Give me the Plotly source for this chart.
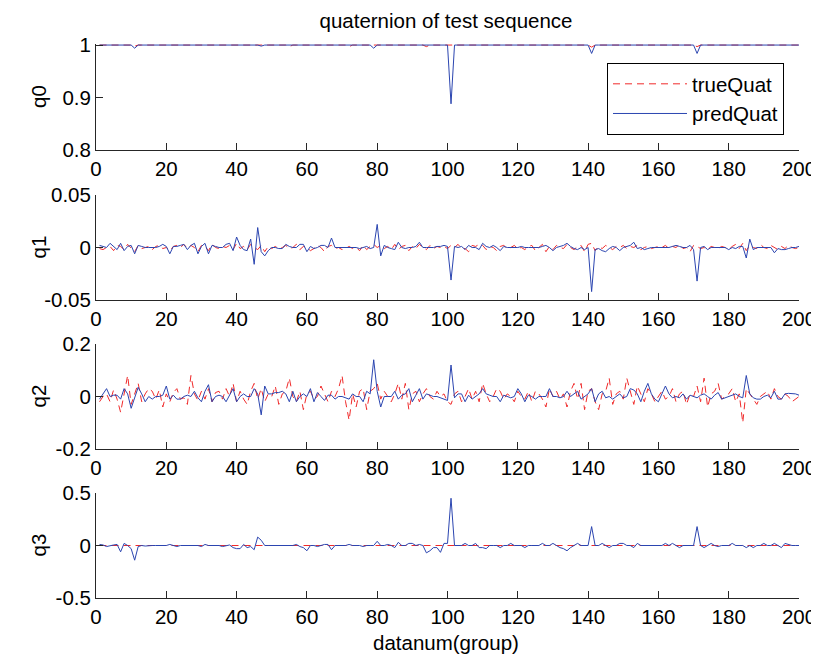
import plotly.graph_objects as go

# ---------------- data ----------------
datanum = list(range(1, 201))

q0_true = [
    1.000, 1.000, 1.000, 1.000, 1.000, 1.000, 1.000, 1.000, 1.000, 1.000, 0.998, 1.000, 1.000, 1.000, 1.000, 1.000, 1.000, 1.000, 1.000, 1.000,
    1.000, 1.000, 1.000, 1.000, 1.000, 1.000, 1.000, 1.000, 1.000, 1.000, 1.000, 1.000, 1.000, 1.000, 1.000, 1.000, 1.000, 1.000, 1.000, 1.000,
    1.000, 1.000, 1.000, 1.000, 1.000, 1.000, 0.999, 1.000, 1.000, 1.000, 1.000, 1.000, 1.000, 1.000, 0.997, 1.000, 1.000, 1.000, 1.000, 1.000,
    1.000, 1.000, 1.000, 1.000, 1.000, 1.000, 1.000, 1.000, 1.000, 1.000, 1.000, 0.997, 1.000, 1.000, 1.000, 1.000, 1.000, 1.000, 1.000, 1.000,
    1.000, 1.000, 1.000, 1.000, 1.000, 1.000, 1.000, 1.000, 1.000, 1.000, 1.000, 1.000, 1.000, 0.997, 1.000, 1.000, 1.000, 1.000, 1.000, 1.000,
    0.999, 1.000, 1.000, 1.000, 1.000, 1.000, 1.000, 1.000, 1.000, 1.000, 1.000, 1.000, 1.000, 1.000, 1.000, 1.000, 1.000, 1.000, 1.000, 1.000,
    1.000, 1.000, 1.000, 1.000, 1.000, 1.000, 1.000, 1.000, 1.000, 1.000, 1.000, 1.000, 1.000, 1.000, 1.000, 1.000, 1.000, 1.000, 1.000, 1.000,
    0.996, 1.000, 1.000, 1.000, 1.000, 1.000, 1.000, 1.000, 1.000, 1.000, 1.000, 1.000, 1.000, 1.000, 1.000, 1.000, 1.000, 1.000, 1.000, 1.000,
    1.000, 1.000, 1.000, 1.000, 1.000, 1.000, 1.000, 1.000, 1.000, 1.000, 0.997, 1.000, 1.000, 1.000, 1.000, 1.000, 1.000, 1.000, 1.000, 1.000,
    1.000, 1.000, 1.000, 1.000, 1.000, 1.000, 1.000, 1.000, 1.000, 1.000, 1.000, 1.000, 1.000, 1.000, 1.000, 1.000, 1.000, 1.000, 1.000, 1.000,
]
q0_pred = [
    1.000, 1.000, 1.000, 1.000, 1.000, 1.000, 1.000, 1.000, 1.000, 1.000, 0.994, 1.000, 1.000, 1.000, 1.000, 1.000, 1.000, 1.000, 1.000, 1.000,
    1.000, 1.000, 1.000, 1.000, 1.000, 1.000, 1.000, 1.000, 1.000, 1.000, 1.000, 1.000, 1.000, 1.000, 1.000, 1.000, 1.000, 1.000, 1.000, 1.000,
    1.000, 1.000, 1.000, 1.000, 1.000, 1.000, 0.998, 1.000, 1.000, 1.000, 1.000, 1.000, 1.000, 1.000, 1.000, 1.000, 1.000, 1.000, 1.000, 1.000,
    1.000, 1.000, 1.000, 1.000, 1.000, 1.000, 1.000, 1.000, 1.000, 1.000, 1.000, 1.000, 1.000, 1.000, 1.000, 1.000, 1.000, 1.000, 0.994, 1.000,
    1.000, 1.000, 1.000, 1.000, 1.000, 1.000, 1.000, 1.000, 1.000, 1.000, 1.000, 1.000, 1.000, 1.000, 1.000, 1.000, 1.000, 1.000, 1.000, 1.000,
    0.888, 1.000, 1.000, 1.000, 1.000, 1.000, 1.000, 1.000, 1.000, 1.000, 1.000, 1.000, 1.000, 1.000, 1.000, 1.000, 1.000, 1.000, 1.000, 1.000,
    1.000, 1.000, 1.000, 1.000, 1.000, 1.000, 1.000, 1.000, 1.000, 1.000, 1.000, 1.000, 1.000, 1.000, 1.000, 1.000, 1.000, 1.000, 1.000, 1.000,
    0.984, 1.000, 1.000, 1.000, 1.000, 1.000, 1.000, 1.000, 1.000, 1.000, 1.000, 1.000, 1.000, 1.000, 1.000, 1.000, 1.000, 1.000, 1.000, 1.000,
    1.000, 1.000, 1.000, 1.000, 1.000, 1.000, 1.000, 1.000, 1.000, 1.000, 0.984, 1.000, 1.000, 1.000, 1.000, 1.000, 1.000, 1.000, 1.000, 1.000,
    1.000, 1.000, 1.000, 1.000, 1.000, 1.000, 1.000, 1.000, 1.000, 1.000, 1.000, 1.000, 1.000, 1.000, 1.000, 1.000, 1.000, 1.000, 1.000, 1.000,
]

q1_true = [
    -0.001, -0.002, 0.000, 0.001, -0.003, 0.002, 0.001, -0.002, 0.003, -0.001, -0.004, 0.002, -0.001, 0.000, 0.001, -0.002, 0.001, 0.002, -0.001, 0.000,
    -0.003, 0.001, 0.002, 0.000, 0.003, -0.001, 0.002, 0.000, -0.004, 0.002, 0.001, -0.003, 0.003, 0.000, -0.001, 0.001, 0.000, 0.002, -0.002, 0.004,
    -0.001, 0.001, -0.002, 0.003, 0.000, -0.002, 0.002, -0.004, 0.001, -0.001, 0.001, -0.001, 0.000, 0.002, -0.001, 0.000, 0.003, -0.002, 0.001, 0.000,
    -0.003, -0.001, 0.002, 0.000, -0.004, 0.001, 0.002, -0.001, 0.000, -0.002, -0.001, 0.001, -0.001, 0.000, -0.003, 0.002, -0.002, 0.001, 0.003, 0.000,
    0.002, -0.001, 0.001, -0.002, 0.003, -0.002, 0.001, 0.002, -0.003, 0.001, -0.001, 0.003, 0.000, -0.002, 0.002, -0.001, 0.001, 0.000, 0.001, -0.001,
    0.002, 0.000, 0.003, -0.001, -0.001, -0.004, 0.002, 0.001, 0.003, 0.002, -0.002, 0.001, 0.000, -0.003, 0.001, 0.002, -0.001, 0.000, 0.002, -0.001,
    0.000, -0.002, 0.001, 0.002, -0.003, 0.000, 0.003, -0.004, 0.001, -0.002, 0.002, 0.000, -0.001, 0.003, 0.000, -0.002, 0.001, 0.002, -0.004, 0.003,
    0.004, -0.003, 0.001, -0.001, 0.002, 0.000, -0.002, 0.001, 0.000, 0.002, -0.001, 0.001, 0.000, 0.002, -0.002, 0.000, 0.001, -0.001, 0.000, 0.001,
    0.000, 0.002, -0.001, 0.001, 0.000, 0.003, -0.001, 0.000, -0.004, 0.002, 0.001, -0.001, 0.000, -0.002, 0.001, 0.000, -0.001, 0.001, 0.000, -0.002,
    0.001, 0.003, -0.001, 0.004, -0.003, 0.002, 0.000, -0.001, 0.003, 0.000, -0.001, 0.002, 0.000, -0.002, 0.001, -0.001, 0.002, 0.000, -0.001, 0.000,
]
q1_pred = [
    0.002, 0.001, 0.000, 0.004, 0.001, -0.002, 0.004, -0.003, 0.001, 0.002, -0.006, 0.002, 0.001, 0.000, 0.000, 0.000, 0.000, 0.001, 0.003, 0.001,
    -0.006, 0.001, 0.001, 0.002, 0.003, -0.002, 0.002, 0.004, -0.006, 0.001, 0.004, -0.006, 0.002, 0.001, 0.000, 0.000, 0.003, 0.004, -0.003, 0.010,
    0.002, -0.002, -0.003, 0.008, -0.016, 0.019, -0.004, -0.008, -0.003, 0.000, 0.000, -0.001, -0.001, 0.003, 0.001, 0.000, 0.000, 0.003, 0.003, -0.004,
    0.001, -0.001, 0.000, 0.002, 0.002, 0.000, 0.009, 0.000, 0.000, 0.000, 0.000, 0.000, 0.000, 0.000, -0.001, 0.000, 0.001, -0.001, 0.000, 0.022,
    -0.008, 0.002, 0.000, -0.001, -0.002, 0.005, 0.000, -0.001, 0.000, 0.000, 0.001, 0.005, 0.000, 0.000, 0.000, 0.000, 0.001, 0.001, 0.002, 0.001,
    -0.031, 0.001, 0.000, 0.001, -0.002, 0.002, 0.000, 0.000, -0.002, 0.004, 0.001, 0.000, 0.002, 0.000, -0.003, 0.001, 0.000, 0.000, 0.000, 0.000,
    0.001, 0.000, 0.000, 0.000, 0.000, 0.000, 0.001, 0.002, 0.000, -0.003, 0.000, 0.001, 0.002, 0.004, 0.001, -0.001, -0.002, 0.000, -0.002, 0.000,
    -0.042, -0.002, -0.001, -0.003, -0.004, -0.001, 0.001, 0.000, -0.003, 0.000, 0.001, 0.002, 0.005, -0.001, 0.000, -0.002, -0.001, 0.000, 0.000, 0.000,
    0.000, 0.000, 0.000, 0.001, 0.002, 0.001, 0.000, 0.000, 0.002, -0.002, -0.032, 0.000, 0.001, -0.002, 0.000, 0.000, 0.000, 0.000, 0.000, -0.002,
    0.000, -0.001, 0.001, 0.001, -0.010, 0.008, -0.002, 0.000, 0.000, 0.000, 0.000, 0.000, -0.005, -0.001, -0.002, -0.002, -0.001, 0.000, 0.000, 0.001,
]

q2_true = [
    -0.020, 0.000, 0.010, -0.020, 0.025, -0.010, -0.060, 0.010, 0.080, -0.030, 0.010, 0.050, -0.020, 0.010, 0.030, 0.020, -0.010, 0.025, -0.040, 0.010,
    -0.020, 0.015, 0.030, -0.010, -0.005, -0.030, 0.080, 0.010, -0.015, 0.020, -0.010, 0.030, -0.020, 0.015, 0.020, -0.010, 0.030, 0.000, 0.050, -0.020,
    0.020, -0.010, -0.030, 0.020, 0.050, -0.010, 0.030, -0.020, 0.010, 0.000, 0.040, -0.030, 0.010, 0.020, 0.070, 0.000, -0.020, 0.020, -0.050, 0.010,
    0.020, -0.010, 0.000, 0.040, 0.010, -0.020, 0.020, 0.000, 0.030, 0.080, -0.020, -0.090, 0.010, -0.040, 0.020, 0.030, -0.050, 0.020, 0.030, 0.050,
    -0.010, 0.020, 0.000, -0.020, 0.010, 0.050, -0.010, 0.050, -0.050, 0.010, 0.020, -0.020, 0.010, 0.030, 0.000, -0.010, 0.020, 0.000, 0.010, -0.020,
    -0.030, 0.010, 0.020, -0.020, 0.000, 0.030, -0.010, 0.020, -0.020, 0.050, 0.010, -0.020, 0.000, 0.030, 0.020, -0.010, 0.010, 0.000, -0.020, 0.020,
    0.000, -0.010, 0.020, -0.020, 0.020, 0.010, -0.010, -0.040, 0.030, 0.000, 0.020, -0.010, 0.010, -0.040, 0.020, 0.050, -0.010, 0.050, -0.050, 0.020,
    0.030, -0.020, -0.050, 0.010, 0.020, 0.070, -0.030, 0.010, 0.020, -0.010, 0.070, 0.020, -0.030, 0.040, 0.010, -0.020, 0.030, 0.010, -0.020, 0.000,
    0.020, -0.010, 0.000, 0.030, -0.020, 0.010, 0.020, -0.030, 0.010, 0.000, 0.040, -0.020, 0.070, -0.040, 0.010, 0.020, 0.050, -0.010, 0.000, 0.010,
    0.030, -0.020, 0.010, -0.100, 0.030, 0.010, -0.010, -0.030, 0.000, 0.010, 0.020, -0.010, 0.030, 0.000, -0.010, 0.010, 0.000, -0.020, -0.010, 0.000,
]
q2_pred = [
    -0.010, 0.010, 0.030, 0.000, 0.005, 0.005, -0.010, 0.030, 0.010, -0.045, -0.005, 0.035, 0.010, -0.020, 0.000, -0.010, 0.000, 0.000, 0.005, 0.040,
    -0.010, 0.005, -0.010, -0.010, 0.000, 0.005, 0.000, 0.020, -0.005, -0.020, 0.020, 0.045, -0.020, 0.000, 0.005, 0.000, -0.020, 0.005, 0.030, -0.020,
    0.000, 0.010, 0.000, 0.000, 0.030, 0.010, -0.070, 0.040, 0.010, 0.010, 0.015, 0.015, 0.020, 0.010, -0.020, 0.020, -0.020, 0.000, 0.010, 0.000,
    0.030, -0.020, 0.015, 0.000, -0.015, 0.005, 0.005, -0.010, 0.000, 0.000, -0.005, -0.010, 0.010, 0.000, 0.000, -0.020, 0.020, 0.010, 0.140, 0.020,
    -0.040, 0.000, 0.000, 0.000, 0.020, -0.010, 0.005, 0.010, 0.030, -0.020, 0.005, 0.030, -0.010, 0.010, 0.005, 0.000, 0.000, -0.005, -0.010, -0.015,
    0.120, -0.005, 0.010, 0.010, -0.020, 0.005, -0.010, 0.000, 0.010, 0.030, 0.010, 0.005, 0.000, 0.000, -0.020, 0.005, 0.000, -0.005, 0.000, 0.030,
    0.010, -0.020, 0.005, 0.000, -0.010, 0.000, 0.000, 0.000, 0.030, 0.000, 0.000, -0.005, 0.000, 0.020, 0.000, 0.010, 0.020, -0.010, 0.000, 0.010,
    0.030, -0.020, 0.010, 0.020, -0.005, 0.000, -0.010, 0.000, 0.010, -0.005, 0.000, 0.030, 0.025, 0.010, -0.020, 0.020, 0.050, 0.010, -0.010, -0.020,
    0.010, 0.040, 0.010, -0.005, 0.000, -0.005, 0.010, -0.010, 0.005, 0.000, -0.005, 0.005, 0.010, 0.000, -0.010, 0.005, 0.015, -0.010, -0.005, 0.000,
    0.005, 0.010, 0.000, -0.005, 0.080, 0.010, -0.005, -0.010, -0.010, 0.000, 0.005, -0.005, 0.020, -0.010, -0.010, 0.010, 0.012, 0.012, 0.010, 0.005,
]

q3_true = [
    0.0, 0.0, 0.0, 0.0, 0.0, 0.0, 0.0, 0.0, 0.0, 0.0, 0.0, 0.0, 0.0, 0.0, 0.0, 0.0, 0.0, 0.0, 0.0, 0.0,
    0.0, 0.0, 0.0, 0.0, 0.0, 0.0, 0.0, 0.0, 0.0, 0.0, 0.0, 0.0, 0.0, 0.0, 0.0, 0.0, 0.0, 0.0, 0.0, 0.0,
    0.0, 0.0, 0.0, 0.0, 0.0, 0.0, 0.0, 0.0, 0.0, 0.0, 0.0, 0.0, 0.0, 0.0, 0.0, 0.0, 0.0, 0.0, 0.0, 0.0,
    0.0, 0.0, 0.0, 0.0, 0.0, 0.0, 0.0, 0.0, 0.0, 0.0, 0.0, 0.0, 0.0, 0.0, 0.0, 0.0, 0.0, 0.0, 0.0, 0.0,
    0.0, 0.0, 0.0, 0.0, 0.0, 0.0, 0.0, 0.0, 0.0, 0.0, 0.0, 0.0, 0.0, 0.0, 0.0, 0.0, 0.0, 0.0, 0.0, 0.0,
    0.0, 0.0, 0.0, 0.0, 0.0, 0.0, 0.0, 0.0, 0.0, 0.0, 0.0, 0.0, 0.0, 0.0, 0.0, 0.0, 0.0, 0.0, 0.0, 0.0,
    0.0, 0.0, 0.0, 0.0, 0.0, 0.0, 0.0, 0.0, 0.0, 0.0, 0.0, 0.0, 0.0, 0.0, 0.0, 0.0, 0.0, 0.0, 0.0, 0.0,
    0.0, 0.0, 0.0, 0.0, 0.0, 0.0, 0.0, 0.0, 0.0, 0.0, 0.0, 0.0, 0.0, 0.0, 0.0, 0.0, 0.0, 0.0, 0.0, 0.0,
    0.0, 0.0, 0.0, 0.0, 0.0, 0.0, 0.0, 0.0, 0.0, 0.0, 0.0, 0.0, 0.0, 0.0, 0.0, 0.0, 0.0, 0.0, 0.0, 0.0,
    0.0, 0.0, 0.0, 0.0, 0.0, 0.0, 0.0, 0.0, 0.0, 0.0, 0.0, 0.0, 0.0, 0.0, 0.0, 0.0, 0.0, 0.0, 0.0, 0.0,
]
q3_pred = [
    0.010, 0.005, -0.010, 0.000, 0.005, 0.010, -0.060, 0.020, 0.000, -0.030, -0.140, -0.010, 0.000, -0.005, 0.000, 0.000, 0.000, 0.000, 0.000, 0.000,
    0.010, 0.000, -0.010, 0.000, 0.000, 0.000, 0.000, 0.000, 0.000, -0.010, 0.010, 0.000, 0.000, 0.000, 0.000, -0.010, 0.000, 0.005, -0.020, -0.030,
    -0.030, 0.010, -0.020, -0.010, -0.040, 0.080, 0.050, 0.000, 0.000, 0.000, 0.000, 0.000, 0.000, 0.000, 0.000, 0.000, 0.010, -0.010, -0.020, -0.050,
    0.000, 0.000, -0.010, 0.000, 0.010, 0.010, -0.040, 0.000, 0.000, 0.000, 0.000, 0.010, 0.000, 0.000, 0.000, -0.010, 0.000, 0.000, 0.000, 0.040,
    0.000, 0.000, 0.010, 0.000, -0.020, 0.030, 0.000, 0.000, 0.020, 0.020, 0.000, 0.010, 0.000, -0.070, -0.050, -0.020, -0.020, -0.065, 0.020, 0.020,
    0.450, 0.000, 0.000, 0.000, 0.020, 0.000, 0.000, 0.020, -0.020, -0.020, -0.030, 0.000, 0.000, 0.000, -0.020, 0.000, 0.000, 0.020, 0.000, 0.000,
    0.000, -0.020, 0.000, 0.000, 0.000, 0.000, 0.020, 0.000, 0.000, 0.020, 0.000, -0.020, -0.030, -0.050, -0.020, 0.000, 0.020, 0.000, 0.000, 0.000,
    0.180, 0.000, 0.000, 0.020, 0.000, -0.020, 0.000, 0.000, 0.020, 0.020, 0.000, 0.000, -0.020, 0.020, 0.000, 0.000, 0.000, 0.000, 0.000, 0.000,
    0.000, 0.020, 0.000, 0.020, 0.000, -0.020, 0.000, 0.000, 0.000, 0.000, 0.180, 0.000, -0.020, 0.000, 0.020, 0.000, -0.010, 0.000, 0.000, 0.000,
    0.020, 0.000, 0.000, 0.000, -0.020, 0.000, -0.020, 0.000, 0.000, 0.020, 0.000, 0.000, 0.020, 0.000, -0.020, 0.020, 0.010, 0.000, 0.000, 0.000,
]

x_ticks = [0, 20, 40, 60, 80, 100, 120, 140, 160, 180, 200]
x_ticklabels = ["0", "20", "40", "60", "80", "100", "120", "140", "160", "180", "200"]
y_names = ["q0", "q1", "q2", "q3"]
y_ticks = [[0.8, 0.9, 1.0], [-0.05, 0.0, 0.05], [-0.2, 0.0, 0.2], [-0.5, 0.0, 0.5]]
y_ticklabels = [["0.8", "0.9", "1"], ["-0.05", "0", "0.05"], ["-0.2", "0", "0.2"], ["-0.5", "0", "0.5"]]
y_ranges = [[0.8, 1.002], [-0.05, 0.05], [-0.2, 0.2], [-0.5, 0.5]]
series_true = [q0_true, q1_true, q2_true, q3_true]
series_pred = [q0_pred, q1_pred, q2_pred, q3_pred]

# ---------------- style ----------------
# the page body has an 8px margin, so the figure is 8px smaller than the window
OFF = 8
W, H = 819 - OFF, 656 - OFF
FONT = "Liberation Sans, Arial, Helvetica, sans-serif"
FS = 20.5
AX = "#262626"
RED = "#f02a2a"
BLUE = "#2b45b0"


def px_x(p):
    return (p - OFF) / W


def px_y(p):
    return 1 - (p - OFF) / H


x_left, x_right = 96, 799
tops = [44, 195, 344, 493]
bottoms = [150, 300, 449, 598]

fig = go.Figure()

for i in range(4):
    xa = "x" if i == 0 else f"x{i+1}"
    ya = "y" if i == 0 else f"y{i+1}"
    fig.add_trace(go.Scatter(
        x=datanum, y=series_true[i], xaxis=xa, yaxis=ya, mode="lines",
        name="trueQuat", legendgroup="true", showlegend=(i == 0),
        line=dict(color=RED, width=1, dash="7px,5px"),
    ))
    fig.add_trace(go.Scatter(
        x=datanum, y=series_pred[i], xaxis=xa, yaxis=ya, mode="lines",
        name="predQuat", legendgroup="pred", showlegend=(i == 0),
        line=dict(color=BLUE, width=1),
    ))

layout = dict(
    width=W, height=H,
    margin=dict(l=0, r=0, t=0, b=0),
    paper_bgcolor="white", plot_bgcolor="white",
    font=dict(family=FONT, size=FS, color="black"),
    title=dict(text="quaternion of test sequence", x=px_x(446), y=px_y(21),
               xanchor="center", yanchor="middle", xref="paper", yref="paper",
               font=dict(family=FONT, size=FS, color="black")),
    legend=dict(x=px_x(607), y=px_y(63), xanchor="left", yanchor="top",
                bgcolor="white", bordercolor="black", borderwidth=1,
                font=dict(family=FONT, size=FS, color="black"),
                itemwidth=74, tracegroupgap=0),
    showlegend=True,
)

for i in range(4):
    xk = "xaxis" if i == 0 else f"xaxis{i+1}"
    yk = "yaxis" if i == 0 else f"yaxis{i+1}"
    xa = "x" if i == 0 else f"x{i+1}"
    ya = "y" if i == 0 else f"y{i+1}"
    layout[xk] = dict(
        domain=[px_x(x_left), px_x(x_right)], anchor=ya, range=[0, 200],
        tickvals=x_ticks, ticktext=x_ticklabels,
        ticks="inside", ticklen=7, tickwidth=1, tickcolor=AX,
        showline=True, linecolor=AX, linewidth=1, mirror=False,
        showgrid=False, zeroline=False, automargin=False,
        tickfont=dict(family=FONT, size=FS, color="black"),
    )
    layout[yk] = dict(
        domain=[px_y(bottoms[i]), px_y(tops[i])], anchor=xa, range=y_ranges[i],
        tickvals=y_ticks[i], ticktext=y_ticklabels[i],
        ticks="inside", ticklen=7, tickwidth=1, tickcolor=AX,
        showline=True, linecolor=AX, linewidth=1, mirror=False,
        showgrid=False, zeroline=False, automargin=False,
        tickfont=dict(family=FONT, size=FS, color="black"),
    )

fig.update_layout(**layout)

annotations = []
for i in range(4):
    annotations.append(dict(
        text=y_names[i], xref="paper", yref="paper",
        x=px_x(38), y=px_y((tops[i] + bottoms[i]) / 2),
        xanchor="center", yanchor="middle", textangle=-90, showarrow=False,
        font=dict(family=FONT, size=FS, color="black"),
    ))
annotations.append(dict(
    text="datanum(group)", xref="paper", yref="paper",
    x=px_x(446), y=px_y(642), xanchor="center", yanchor="middle", showarrow=False,
    font=dict(family=FONT, size=FS, color="black"),
))
fig.update_layout(annotations=annotations)

fig.write_html("out.html")
